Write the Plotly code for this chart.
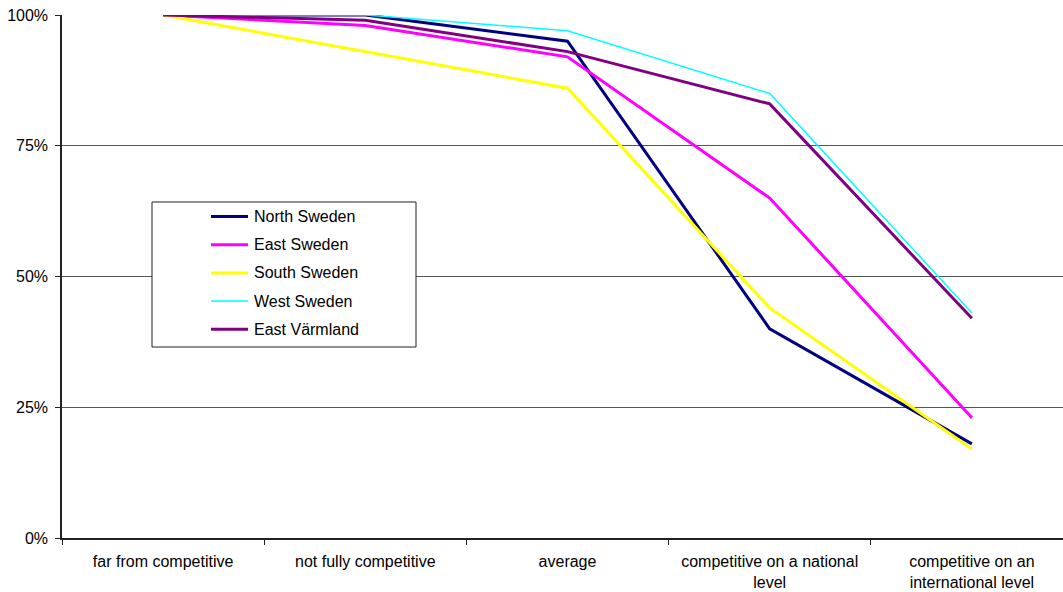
import plotly.graph_objects as go

# Competitiveness categories (x axis)
categories = [
    "far from competitive",
    "not fully competitive",
    "average",
    "competitive on a national<br>level",
    "competitive on an<br>international level",
]

# Share of firms (%) per region
north_sweden = [100, 100, 95, 40, 18]
east_sweden = [100, 98, 92, 65, 23]
south_sweden = [100, 93, 86, 44, 17]
west_sweden = [100, 100, 97, 85, 43]
east_varmland = [100, 99, 93, 83, 42]

series_names = ["North Sweden", "East Sweden", "South Sweden", "West Sweden", "East Värmland"]
series_values = [north_sweden, east_sweden, south_sweden, west_sweden, east_varmland]
series_colors = ["#000080", "#FF00FF", "#FFFF00", "#00FFFF", "#800080"]
series_widths = [3, 3, 3, 1.5, 3]

y_ticks = [0, 0.25, 0.5, 0.75, 1.0]

# Page / plot geometry in pixels
W, H = 1063, 592
PL, PT, PB = 62, 15, 538
PR = W
FONT = "Liberation Sans, Arial, sans-serif"


def px_x(p):
    return (p - PL) / (PR - PL)


def px_y(p):
    return (PB - p) / (PB - PT)


fig = go.Figure()
for name, vals, color, width in zip(series_names, series_values, series_colors, series_widths):
    fig.add_trace(go.Scatter(
        x=categories,
        y=[v / 100 for v in vals],
        mode="lines",
        name=name,
        line=dict(color=color, width=width),
        showlegend=False,
    ))

# Legend box drawn as shapes and text
shapes = [dict(
    type="rect", xref="paper", yref="paper",
    x0=px_x(152), x1=px_x(416), y0=px_y(347), y1=px_y(202),
    line=dict(color="#222222", width=1), fillcolor="white", layer="above",
)]
annotations = []
for i, (name, color, width) in enumerate(zip(series_names, series_colors, series_widths)):
    yc = 216.5 + i * 28.2
    shapes.append(dict(
        type="line", xref="paper", yref="paper",
        x0=px_x(211), x1=px_x(248), y0=px_y(yc), y1=px_y(yc),
        line=dict(color=color, width=width), layer="above",
    ))
    annotations.append(dict(
        xref="paper", yref="paper", x=px_x(252), y=px_y(yc),
        text=name, showarrow=False, xanchor="left", yanchor="middle",
        font=dict(family=FONT, size=16, color="#000000"),
    ))

fig.update_layout(
    width=W, height=H,
    margin=dict(l=PL, r=W - PR, t=PT, b=H - PB, pad=0),
    paper_bgcolor="white", plot_bgcolor="white",
    font=dict(family=FONT, size=16, color="#000000"),
    shapes=shapes,
    annotations=annotations,
    showlegend=False,
)

fig.update_xaxes(
    type="category",
    range=[-0.5, -0.5 + (PR - PL) / 202.2],
    tickson="boundaries",
    ticks="outside", ticklen=5, tickcolor="#222222",
    showgrid=False, showline=True, linecolor="#222222", linewidth=1.5,
    ticklabelstandoff=8,
    tickfont=dict(family=FONT, size=16),
    zeroline=False,
)
fig.update_yaxes(
    range=[0, 1],
    tickvals=y_ticks, tickformat=".0%",
    ticks="outside", ticklen=5, tickcolor="#222222",
    showgrid=True, gridcolor="#555555", gridwidth=1,
    showline=True, linecolor="#222222", linewidth=1.5,
    zeroline=False,
    ticklabelstandoff=4,
    tickfont=dict(family=FONT, size=16),
)

fig.write_html("out.html")
